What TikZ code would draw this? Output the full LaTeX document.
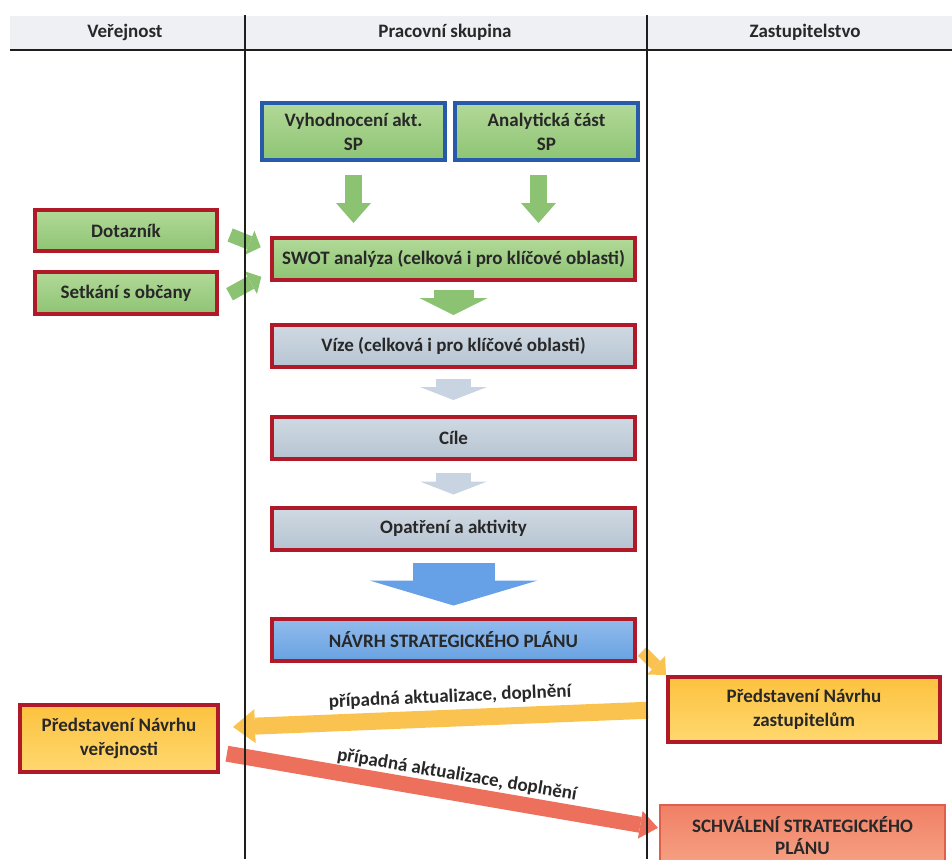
\documentclass[tikz,border=0pt]{standalone}
\usepackage{fontspec}
\setmainfont{Carlito}
\usepackage{xcolor}
\usepackage{tikz}
\usetikzlibrary{arrows.meta,positioning,calc}
\definecolor{laneline}{RGB}{30,30,30}
\definecolor{headfill}{RGB}{238,240,244}
\definecolor{txtdark}{RGB}{40,40,40}
\definecolor{boxred}{RGB}{175,25,40}
\definecolor{boxblue}{RGB}{40,90,170}
\definecolor{grtop}{RGB}{178,217,152}
\definecolor{grbot}{RGB}{142,196,116}
\definecolor{gytop}{RGB}{208,217,227}
\definecolor{gybot}{RGB}{182,196,210}
\definecolor{bltop}{RGB}{146,188,236}
\definecolor{blbot}{RGB}{104,162,226}
\definecolor{ortop}{RGB}{252,194,62}
\definecolor{orbot}{RGB}{255,216,112}
\definecolor{sltop}{RGB}{240,128,102}
\definecolor{slbot}{RGB}{246,162,132}
\definecolor{slline}{RGB}{222,96,76}
\definecolor{grarrow}{RGB}{140,195,115}
\definecolor{palearrow}{RGB}{200,212,225}
\definecolor{blarrow}{RGB}{102,160,230}
\definecolor{orarrow}{RGB}{250,195,80}
\definecolor{slarrow}{RGB}{236,112,92}
\tikzset{
  box/.style={draw=boxred,line width=2pt,align=center,inner sep=0pt,text=txtdark},
  greenbox/.style={box,top color=grtop,bottom color=grbot},
  inputbox/.style={greenbox,draw=boxblue,line width=1.6pt,minimum width=91.5pt,minimum height=28.5pt},
  sidebox/.style={greenbox,minimum width=91pt,minimum height=20.5pt},
  graybox/.style={box,top color=gytop,bottom color=gybot},
  bluebox/.style={box,top color=bltop,bottom color=blbot},
  orangebox/.style={box,top color=ortop,bottom color=orbot},
  salmonbox/.style={box,draw=slline,line width=1pt,top color=sltop,bottom color=slbot},
  wide/.style={minimum width=181.5pt,minimum height=21pt},
  bigarrow/.style n args={3}{line width=#1,-{Triangle[width=#2,length=#3,line width=0pt]}},
  lane/.style={draw=laneline,line width=1pt},
  lbl/.style={text=txtdark,inner sep=0pt}
}
\begin{document}
\begin{tikzpicture}[x=0.5pt,y=-0.5pt,font=\fontsize{9.5}{12}\selectfont\bfseries]
\useasboundingbox (0,0) rectangle (952,859);
\clip (0,0) rectangle (952,859);
% header
\fill[headfill] (10,16) rectangle (952,50);
\draw[laneline,line width=1pt] (10,50) -- (952,50);
\node[text=txtdark] (hverej) at (125,32) {Veřejnost};
\node[text=txtdark] (hprac) at (445,32) {Pracovní skupina};
\node[text=txtdark] (hzast) at (805,32) {Zastupitelstvo};

% pracovni skupina
\node[inputbox] (vyh) at (353.5,131.5) {Vyhodnocení akt.\\SP};
\node[inputbox] (ana) at (546.5,131.5) {Analytická část\\SP};
\node[greenbox,wide] (swot) at (453.5,259) {SWOT analýza (celková i pro klíčové oblasti)};
\node[graybox,wide] (vize) at (453.5,346) {Víze (celková i pro klíčové oblasti)};
\node[graybox,wide] (cile) at (453.5,438) {Cíle};
\node[graybox,wide] (opat) at (453.5,528.5) {Opatření a aktivity};
\node[bluebox,wide] (navrh) at (453.5,639.5) {NÁVRH STRATEGICKÉHO PLÁNU};

% verejnost
\node[sidebox] (dot) at (126,230.5) {Dotazník};
\node[sidebox,minimum height=21pt] (setk) at (126,293) {Setkání s občany};
\node[orangebox,minimum width=99pt,minimum height=33.5pt] (verej) at (119,738.5) {Představení Návrhu\\veřejnosti};

% zastupitelstvo
\node[orangebox,minimum width=136pt,minimum height=32.5pt] (zast) at (804,709.5) {Představení Návrhu\\zastupitelům};
\node[salmonbox,minimum width=142.5pt,minimum height=31pt,font=\fontsize{9.5}{11}\selectfont\bfseries] (schv) at (802.5,836) {SCHVÁLENÍ STRATEGICKÉHO\\PLÁNU};

% arrows
\draw[grarrow,bigarrow={8.5pt}{17.5pt}{10pt},shorten <=6.5pt,shorten >=6.5pt] (vyh.south) -- (vyh.south |- swot.north);
\draw[grarrow,bigarrow={8.5pt}{17.5pt}{10pt},shorten <=6.5pt,shorten >=6.5pt] ($(ana.south)+(-8,0)$) -- ($(ana.south |- swot.north)+(-8,0)$);
\draw[grarrow,bigarrow={7pt}{13pt}{6pt},shorten <=6pt,shorten >=5pt] (dot.east) -- ($(swot.west)+(0,-8)$);
\draw[grarrow,bigarrow={7pt}{13pt}{6pt},shorten <=6pt,shorten >=5pt] ($(setk.east)+(0,7)$) -- ($(swot.west)+(0,13)$);
\draw[grarrow,bigarrow={20pt}{34pt}{8.5pt},shorten <=4pt,shorten >=4pt] (swot.south) -- (vize.north);
\draw[palearrow,bigarrow={17.5pt}{33.5pt}{6.5pt},shorten <=5pt,shorten >=7.5pt] (vize.south) -- (cile.north);
\draw[palearrow,bigarrow={17.5pt}{33.5pt}{6.5pt},shorten <=6pt,shorten >=5.5pt] (cile.south) -- (opat.north);
\draw[blarrow,bigarrow={41pt}{84pt}{12.5pt},shorten <=5.5pt,shorten >=5.5pt] (opat.south) -- (navrh.north);
\draw[orarrow,bigarrow={6pt}{13pt}{7pt}] ($(navrh.east)+(5,12)$) -- (zast.north west);
\draw[orarrow,bigarrow={8.5pt}{17pt}{11pt},shorten <=9pt,shorten >=6.5pt] (zast.west) -- ($(verej.east)+(0,-11)$);
\draw[slarrow,bigarrow={8pt}{14pt}{9pt},shorten <=3.5pt,shorten >=0.5pt] ($(verej.east)+(0,14)$) -- ($(schv.west)+(0,-8)$);
\node[lbl,rotate=2.5] (lblzast) at (450,697) {případná aktualizace, doplnění};
\node[lbl,rotate=-9.5] (lblverej) at (457,775) {případná aktualizace, doplnění};

% lanes
\draw[lane] (245,15) -- (245,859);
\draw[lane] (647,15) -- (647,859);
\end{tikzpicture}
\end{document}
